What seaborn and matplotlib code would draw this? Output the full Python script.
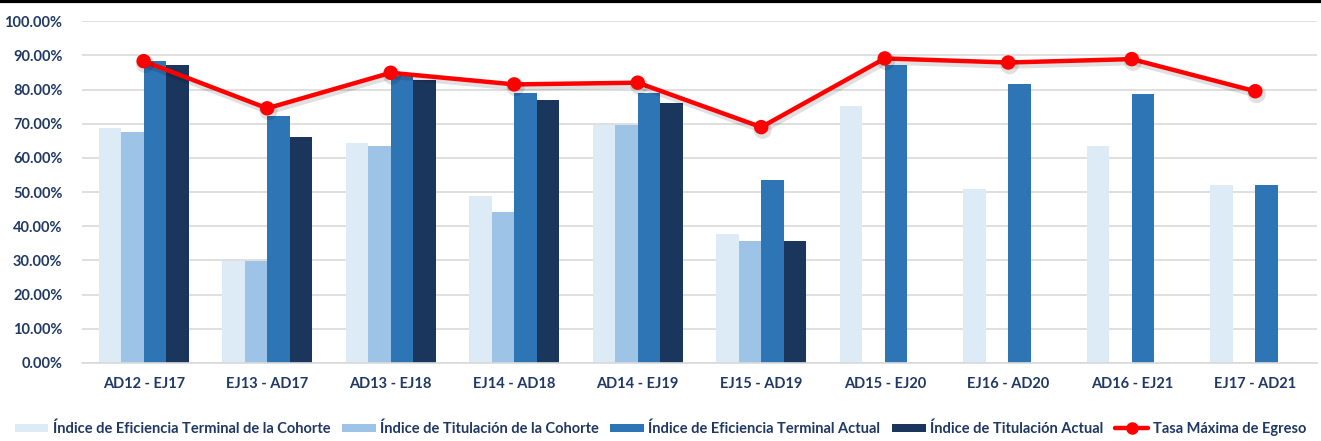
import numpy as np
import pandas as pd
import matplotlib
matplotlib.use("Agg")
import matplotlib.pyplot as plt
import matplotlib.patheffects as pe
from matplotlib.patches import Patch
from matplotlib.lines import Line2D
from matplotlib.ticker import PercentFormatter
import seaborn as sns

categories = ["AD12 - EJ17", "EJ13 - AD17", "AD13 - EJ18", "EJ14 - AD18", "AD14 - EJ19",
              "EJ15 - AD19", "AD15 - EJ20", "EJ16 - AD20", "AD16 - EJ21", "EJ17 - AD21"]
series_names = ["Índice de Eficiencia Terminal de la Cohorte",
                "Índice de Titulación de la Cohorte",
                "Índice de Eficiencia Terminal Actual",
                "Índice de Titulación Actual"]
line_name = "Tasa Máxima de Egreso"

eficiencia_cohorte = [68.7, 29.9, 64.4, 48.8, 69.5, 37.7, 75.1, 51.0, 63.5, 52.2]
titulacion_cohorte = [67.6, 29.8, 63.5, 44.2, 69.5, 35.7, np.nan, np.nan, np.nan, np.nan]
eficiencia_actual = [88.2, 72.3, 84.0, 79.0, 79.1, 53.4, 87.1, 81.6, 78.7, 52.2]
titulacion_actual = [87.2, 66.0, 82.7, 76.8, 76.2, 35.7, np.nan, np.nan, np.nan, np.nan]
tasa_maxima = [88.3, 74.5, 84.9, 81.5, 82.0, 69.0, 89.1, 87.9, 88.9, 79.5]

colors = ["#DDEBF7", "#9DC3E6", "#2E75B6", "#1B365D"]
red = "#FF0000"
text_color = "#1F3864"

sns.set_theme(style="white")
plt.rcParams["font.family"] = ["Lato", "DejaVu Sans"]

rows = []
for name, vals in zip(series_names, [eficiencia_cohorte, titulacion_cohorte,
                                     eficiencia_actual, titulacion_actual]):
    for c, v in zip(categories, vals):
        rows.append({"cat": c, "serie": name, "val": v / 100.0})
df = pd.DataFrame(rows)

fig = plt.figure(figsize=(13.21, 4.41), dpi=100)
ax = fig.add_axes([0.062, 0.177, 0.935, 0.775])

sns.barplot(data=df, x="cat", y="val", hue="serie", order=categories,
            hue_order=series_names, palette=colors, width=0.73, saturation=1,
            linewidth=0, ax=ax, legend=False, errorbar=None)

line_df = pd.DataFrame({"cat": categories, "val": np.array(tasa_maxima) / 100.0})
sns.pointplot(data=line_df, x="cat", y="val", order=categories, color=red,
              markers="o", markersize=8, linewidth=3.2, ax=ax, errorbar=None)
for ln in ax.lines:
    ln.set_path_effects([pe.SimpleLineShadow(offset=(1, -2), shadow_color="black",
                                             alpha=0.12, linewidth=5), pe.Normal()])
    ln.set_zorder(5)
for coll in ax.collections:
    coll.set_zorder(6)

ax.set_ylim(0, 1.0)
ax.set_xlim(-0.5, len(categories) - 0.5)
ax.set_yticks(np.arange(0, 1.01, 0.1))
ax.yaxis.set_major_formatter(PercentFormatter(1.0, decimals=2))
ax.grid(axis="y", color="#D9D9D9", linewidth=1.2)
ax.set_axisbelow(True)
for s in ["top", "right", "left"]:
    ax.spines[s].set_visible(False)
ax.spines["bottom"].set_color("#D9D9D9")
ax.spines["bottom"].set_linewidth(1.2)
ax.set_xlabel("")
ax.set_ylabel("")
ax.tick_params(axis="both", length=0, labelsize=10.5, colors=text_color)
ax.tick_params(axis="y", pad=14)
ax.tick_params(axis="x", pad=10)
for lbl in ax.get_xticklabels() + ax.get_yticklabels():
    lbl.set_fontweight("bold")
    lbl.set_color(text_color)

handles = [Patch(facecolor=c, edgecolor="none") for c in colors]
handles.append(Line2D([0], [0], color=red, linewidth=3.2, marker="o", markersize=8))
leg = fig.legend(handles, series_names + [line_name], loc="lower center",
                 bbox_to_anchor=(0.5, -0.018), ncol=5, frameon=False,
                 handlelength=2.3, handleheight=0.45, handletextpad=0.3,
                 columnspacing=0.8, prop={"weight": "bold", "size": 10.5})
for t in leg.get_texts():
    t.set_color(text_color)

fig.add_artist(Line2D([0, 1], [0.997, 0.997], transform=fig.transFigure,
                      color="black", linewidth=3))

fig.savefig("out.png", dpi=100, facecolor="white")
